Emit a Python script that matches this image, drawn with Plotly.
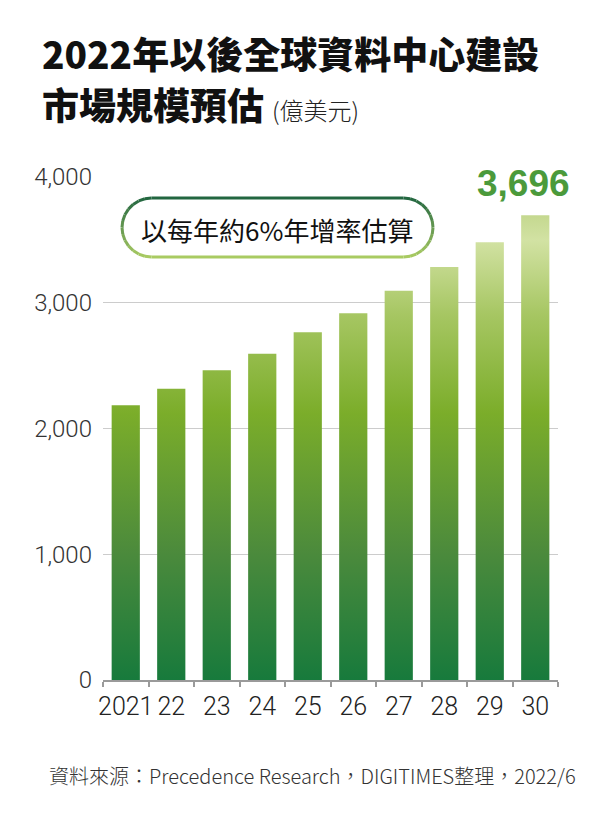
import math
import plotly.graph_objects as go

# data
years = ["2021", "22", "23", "24", "25", "26", "27", "28", "29", "30"]
market = [2184, 2316, 2464, 2594, 2766, 2917, 3095, 3285, 3482, 3696]
y_ticks = [0, 1000, 2000, 3000, 4000]

# the page body adds an 8px margin, so work in screen pixels and shift back
OFF = 8
W, H = 600, 814
PW, PH = 455, 503
L, T = 103 - OFF, 177 - OFF
R, B = W - L - PW, H - T - PH

def px(x):
  return (x - OFF - L) / PW

def py(y):
  return (T + PH - (y - OFF)) / PH

bar_scale = [
  [0.0, "#177a3c"],
  [0.27, "#4b8a3c"],
  [0.57, "#7bad2a"],
  [0.78, "#a6c662"],
  [0.94, "#d2e2a3"],
  [1.0, "#c3d78d"],
]

fig = go.Figure()

half = 0.31
for i, v in enumerate(market):
  fig.add_trace(go.Scatter(
    x=[i - half, i + half, i + half, i - half, i - half],
    y=[0, 0, v, v, 0],
    mode="lines", line=dict(width=0),
    fill="toself",
    fillgradient=dict(type="vertical", colorscale=bar_scale, start=0, stop=3720),
    hoverinfo="skip", showlegend=False,
  ))

# pill shaped badge, border shaded from dark (top) to light (bottom)
x0, x1, y0, y1 = 122, 433, 198, 257
r = (y1 - y0) / 2
cy = (y0 + y1) / 2
pts = []
n = 14
for k in range(n + 1):  # left arc, bottom -> top
  a = math.pi / 2 + math.pi * k / n
  pts.append((x0 + r + r * math.cos(a), cy + r * math.sin(a)))
for k in range(n + 1):  # right arc, top -> bottom
  a = -math.pi / 2 + math.pi * k / n
  pts.append((x1 - r + r * math.cos(a), cy + r * math.sin(a)))
pts.append(pts[0])

fill_path = "M " + " L ".join(f"{px(a):.5f},{py(b):.5f}" for a, b in pts) + " Z"
shapes = [dict(type="path", xref="paper", yref="paper", path=fill_path,
               fillcolor="white", line=dict(width=0), layer="above")]

def mix(c0, c1, t):
  a = [int(c0[j:j + 2], 16) for j in (1, 3, 5)]
  b = [int(c1[j:j + 2], 16) for j in (1, 3, 5)]
  return "#" + "".join(f"{round(a[j] + (b[j] - a[j]) * t):02x}" for j in range(3))

for k in range(len(pts) - 1):
  (ax, ay), (bx, by) = pts[k], pts[k + 1]
  t = ((ay + by) / 2 - y0) / (y1 - y0)
  shapes.append(dict(
    type="path", xref="paper", yref="paper",
    path=f"M {px(ax):.5f},{py(ay):.5f} L {px(bx):.5f},{py(by):.5f}",
    line=dict(color=mix("#226640", "#a9cb62", t), width=3), layer="above",
  ))

cjk = "Noto Sans CJK TC"
annotations = [
  dict(text="2022年以後全球資料中心建設", x=px(40), y=py(53), xref="paper", yref="paper",
       xanchor="left", yanchor="middle", showarrow=False,
       font=dict(family=cjk, size=37, color="#111111", weight=900)),
  dict(text="市場規模預估", x=px(40), y=py(104), xref="paper", yref="paper",
       xanchor="left", yanchor="middle", showarrow=False,
       font=dict(family=cjk, size=37, color="#111111", weight=900)),
  dict(text="(億美元)", x=px(270), y=py(104), xref="paper", yref="paper",
       xanchor="left", yanchor="middle", yshift=-5, showarrow=False,
       font=dict(family=cjk, size=24, color="#222222", weight=300)),
  dict(text="以每年約6%年增率估算", x=px(277), y=py(229), xref="paper", yref="paper",
       xanchor="center", yanchor="middle", showarrow=False,
       font=dict(family=cjk, size=26, color="#111111")),
  dict(text=f"{market[-1]:,}", x=len(market) - 1, y=market[-1], xref="x", yref="y",
       xanchor="center", yanchor="bottom", xshift=-12, yshift=10, showarrow=False,
       bgcolor="white", borderpad=0,
       font=dict(family="Liberation Sans", size=37, color="#4b9a3b", weight="bold")),
  dict(text="資料來源：Precedence Research，DIGITIMES整理，2022/6", x=px(312), y=py(775),
       xref="paper", yref="paper", xanchor="center", yanchor="middle", showarrow=False,
       font=dict(family=cjk, size=20, color="#333333", weight=300)),
]

fig.update_layout(
  width=W, height=H,
  margin=dict(l=L, r=R, t=T, b=B, pad=0),
  paper_bgcolor="white", plot_bgcolor="white",
  showlegend=False,
  shapes=shapes,
  annotations=annotations,
  xaxis=dict(
    range=[-0.5, len(years) - 0.5],
    tickmode="array", tickvals=list(range(len(years))), ticktext=years,
    tickangle=0,
    ticks="", showgrid=False, zeroline=False,
    showline=True, linecolor="#9a9a9a", linewidth=1.5,
    tickfont=dict(family="Roboto", size=25, color="#222222", weight=300),
    ticklabelstandoff=3,
    minor=dict(tickmode="array", tickvals=[i - 0.5 for i in range(len(years) + 1)],
               ticks="outside", ticklen=5, tickwidth=1.5, tickcolor="#9a9a9a", showgrid=False),
    fixedrange=True,
  ),
  yaxis=dict(
    range=[0, 4000],
    tickmode="array", tickvals=y_ticks, tickformat=",d",
    showgrid=True, gridcolor="#cccccc", gridwidth=1,
    zeroline=False, showline=False, ticks="",
    tickfont=dict(family="Roboto", size=24, color="#333333", weight=300),
    ticklabelstandoff=10,
    fixedrange=True,
  ),
)

fig.write_html("out.html")
